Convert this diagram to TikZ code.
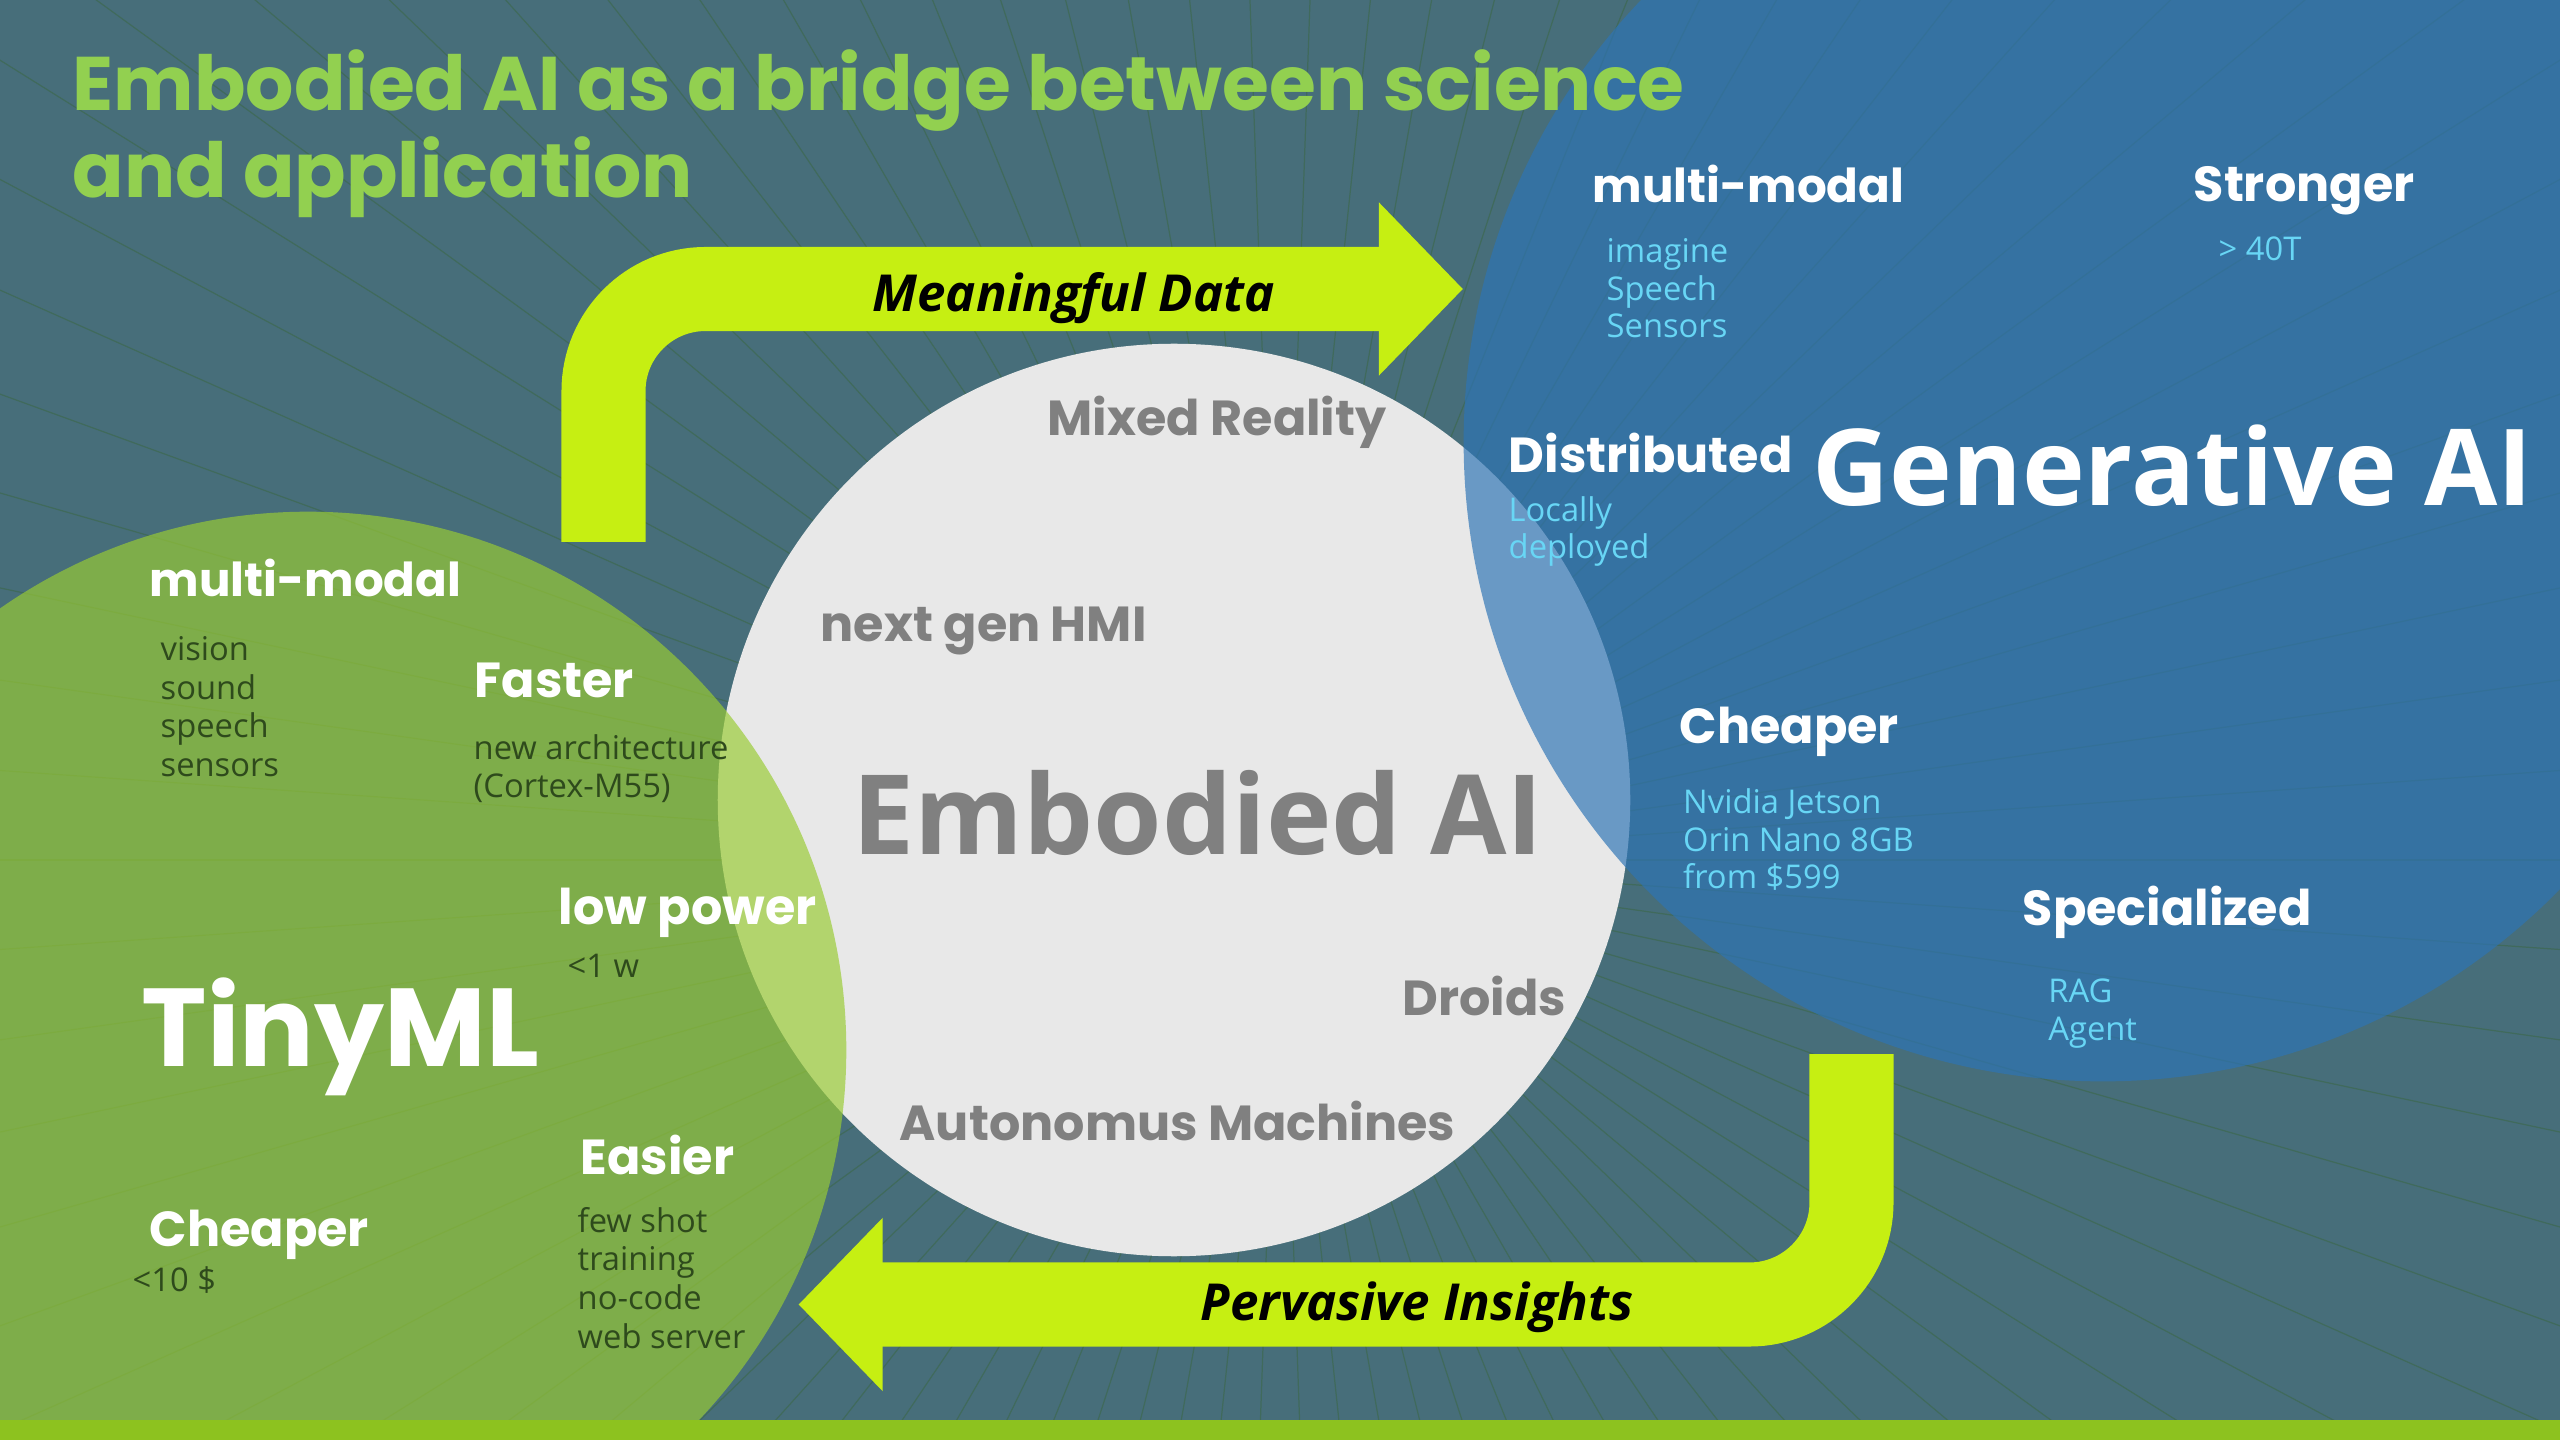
\documentclass[tikz,border=0pt]{standalone}
\usepackage{fontspec}
\setmainfont{Open Sans}
\newfontfamily\montfont{Poppins}
\usetikzlibrary{arrows.meta}

\definecolor{bgteal}{RGB}{71,110,122}
\definecolor{raycol}{RGB}{64,106,92}
\definecolor{tinygreen}{RGB}{153,203,52}
\definecolor{genblue}{RGB}{45,116,181}
\definecolor{embgray}{RGB}{232,232,232}
\definecolor{textgray}{RGB}{128,128,128}
\definecolor{titlegreen}{RGB}{146,208,80}
\definecolor{arrowlime}{RGB}{198,239,18}
\definecolor{stripgreen}{RGB}{141,194,31}
\definecolor{subcyan}{RGB}{104,214,245}
\definecolor{subdark}{RGB}{46,74,28}

\tikzset{rayline/.style={raycol, line width=.35pt}}
\tikzset{bigarrow/.style={arrowlime, line width=.84cm, rounded corners=1.02cm,
  -{Triangle[length=.84cm, width=1.68cm]}}}
\tikzset{titletxt/.style={anchor=base west, inner sep=0pt, align=left, text=titlegreen,
  font=\montfont\bfseries\fontsize{21.6}{25}\selectfont}}
\tikzset{headw/.style={anchor=base west, inner sep=0pt, text=white,
  font=\montfont\bfseries\fontsize{14}{17}\selectfont}}
\tikzset{headmm/.style={headw, font=\montfont\bfseries\fontsize{13.3}{17}\selectfont}}
\tikzset{embtxt/.style={anchor=base west, inner sep=0pt, text=textgray,
  font=\montfont\bfseries\fontsize{14}{17}\selectfont}}
\tikzset{subdk/.style={anchor=base west, inner sep=0pt, align=left, text=subdark,
  font=\fontsize{9.3}{10.95}\selectfont}}
\tikzset{subcy/.style={anchor=base west, inner sep=0pt, align=left, text=subcyan,
  font=\fontsize{9.3}{10.8}\selectfont}}
\tikzset{arrowtxt/.style={anchor=base west, inner sep=0pt, text=black,
  font=\bfseries\itshape\fontsize{14.5}{17}\selectfont}}

\begin{document}
\begin{tikzpicture}[x=.01cm, y=-.01cm]

\useasboundingbox (0,0) rectangle (2560,1440);
\clip (0,0) rectangle (2560,1440);
\fill[bgteal] (0,0) rectangle (2560,1440);
\foreach \ang in {0,4,...,356}
  \draw[rayline] (1280,860) -- ++(\ang:2400);

\fill[embgray] (1174,800) circle [radius=4.56cm];
\fill[tinygreen, fill opacity=.68] (308,1050) circle [radius=5.38cm];
\fill[genblue, fill opacity=.68] (2103,442) circle [radius=6.39cm];
\fill[stripgreen] (0,1420) rectangle (2560,1440);

\coordinate (dataStart) at (603.5,542);
\coordinate (dataTip) at (1463,289);
\coordinate (insStart) at (1851.5,1054);
\coordinate (insTip) at (798.5,1304.5);
\draw[bigarrow] (dataStart) |- (dataTip);
\draw[bigarrow] (insStart) |- (insTip);
\node[arrowtxt] (dataLbl) at (872,312) {Meaningful Data};
\node[arrowtxt] (insLbl) at (1200,1320) {Pervasive Insights};

% multi-line nodes sit on the baseline of their last line
\node[titletxt] (title) at (72,198) {Embodied AI as a bridge between science\\and application};

\node[headmm] (tinyMulti) at (149,597) {multi-modal};
\node[subdk] (tinyMultiSub) at (160,776.5) {vision\\sound\\speech\\sensors};
\node[headw] (tinyFast) at (474,698) {Faster};
\node[subdk] (tinyFastSub) at (473,798) {new architecture\\(Cortex-M55)};
\node[headw] (tinyPower) at (558,924.5) {low power};
\node[subdk] (tinyPowerSub) at (567,978) {<1 w};
\node[headw] (tinyEasy) at (580,1174.5) {Easier};
\node[subdk] (tinyEasySub) at (577,1348) {few shot\\training\\no-code\\web server};
\node[headw] (tinyCheap) at (149,1246) {Cheaper};
\node[subdk] (tinyCheapSub) at (132,1291) {<10 \$};
\node[anchor=base west, inner sep=0pt, text=white, font=\montfont\bfseries\fontsize{31.5}{36}\selectfont]
  (tinyml) at (141,1066.5) {TinyML};

\node[embtxt] (embMixed) at (1047,436) {Mixed Reality};
\node[embtxt] (embHmi) at (820,642) {next gen HMI};
\node[embtxt] (embDroids) at (1402,1015) {Droids};
\node[embtxt] (embAuto) at (899,1140) {Autonomus Machines};
\node[anchor=base west, inner sep=0pt, text=textgray, font=\bfseries\fontsize{31.5}{36}\selectfont]
  (embodied) at (852,854) {Embodied AI};

\node[headmm] (genMulti) at (1592,203) {multi-modal};
\node[subcy] (genMultiSub) at (1606,338) {imagine\\Speech\\Sensors};
\node[headw] (genStrong) at (2193,202) {Stronger};
\node[subcy] (genStrongSub) at (2218,261) {> 40T};
\node[headw] (genDist) at (1508,473) {Distributed};
\node[subcy] (genDistSub) at (1508,559) {Locally\\deployed};
\node[headw] (genCheap) at (1679,743.5) {Cheaper};
\node[subcy] (genCheapSub) at (1682.5,889) {Nvidia Jetson\\Orin Nano 8GB\\from \$599};
\node[headw] (genSpec) at (2022,925.6) {Specialized};
\node[subcy] (genSpecSub) at (2047.7,1040) {RAG\\Agent};
\node[anchor=base west, inner sep=0pt, text=white, font=\bfseries\fontsize{30.2}{34}\selectfont]
  (genai) at (1812,506) {Generative AI};

\end{tikzpicture}
\end{document}
